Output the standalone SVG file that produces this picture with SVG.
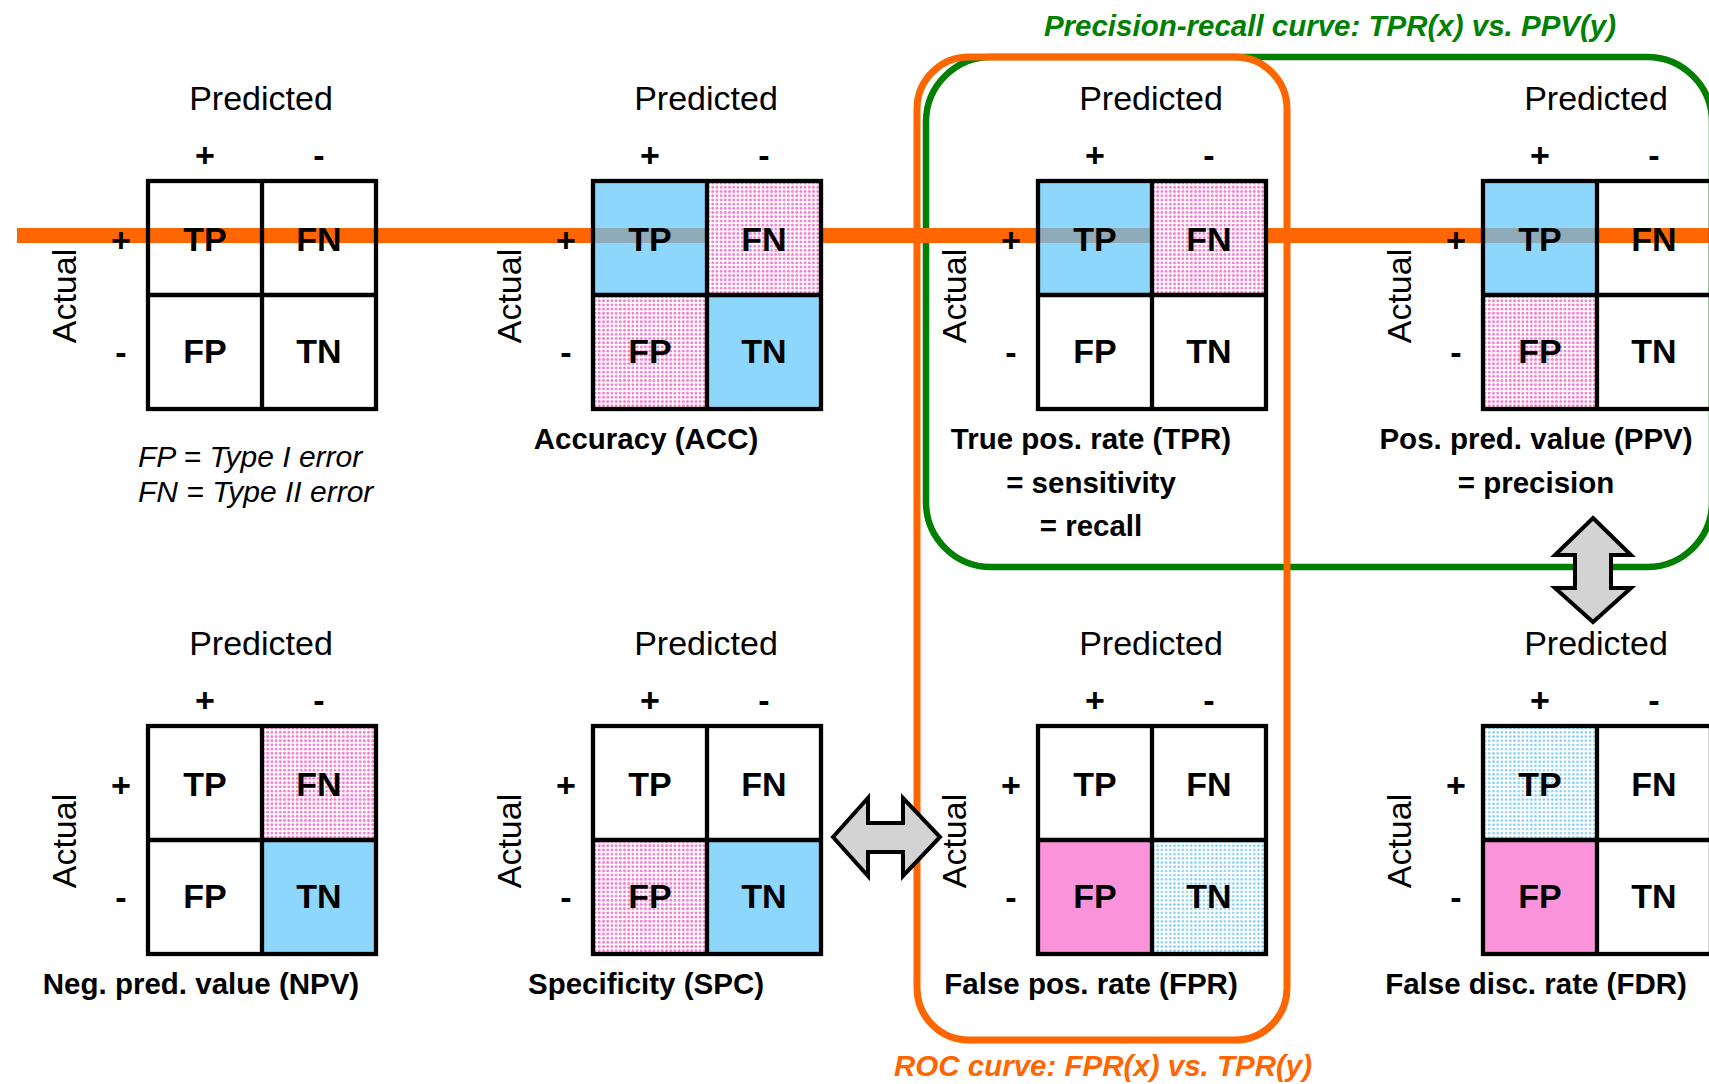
<svg xmlns="http://www.w3.org/2000/svg" width="1709" height="1084" viewBox="0 0 1709 1084">
<defs>
<pattern id="pinkdots" patternUnits="userSpaceOnUse" width="4.2" height="4.2">
<rect width="4.2" height="4.2" fill="#ffffff"/>
<circle cx="2.1" cy="2.1" r="1.45" fill="#f77ccd"/>
</pattern>
<pattern id="bluedots" patternUnits="userSpaceOnUse" width="4.2" height="4.2">
<rect width="4.2" height="4.2" fill="#ffffff"/>
<circle cx="2.1" cy="2.1" r="1.35" fill="#86cff5"/>
</pattern>
<style>
text { font-family: "Liberation Sans", Arial, sans-serif; fill: #000; }
.pred { font-size: 34px; text-anchor: middle; }
.sign { font-size: 34px; font-weight: bold; text-anchor: middle; }
.cell { font-size: 34px; font-weight: bold; text-anchor: middle; }
.act { font-size: 34px; text-anchor: middle; }
.lbl { font-size: 29.5px; font-weight: bold; text-anchor: middle; }
.note { font-size: 30px; font-style: italic; }
.title { font-size: 29.5px; font-weight: bold; font-style: italic; text-anchor: middle; }
.grid { fill: none; stroke: #000; stroke-width: 4.3; }
.blue { fill: #8dd7fc; }
.pink { fill: #fa93da; }
.pdot { fill: url(#pinkdots); }
.bdot { fill: url(#bluedots); }
.band { fill: #8faab8; }
.arrow { fill: #d3d3d3; stroke: #000; stroke-width: 4; stroke-linejoin: miter; }
</style>
</defs>
<rect width="1709" height="1084" fill="#ffffff"/>

<g id="curve-boxes">
<rect id="pr-box" x="926" y="57" width="786" height="510" rx="65" fill="none" stroke="#008000" stroke-width="6.5"/>
<rect id="roc-box" x="917" y="57" width="370" height="983" rx="52" fill="none" stroke="#ff6600" stroke-width="7"/>
</g>

<g id="connectors">
<rect x="17" y="228" width="1692" height="15" fill="#ff6600"/>
</g>

<!-- Matrix 1 -->
<g id="m1" transform="translate(148,181)">
<text class="pred" x="113" y="-71">Predicted</text>
<text class="sign" x="57" y="-14">+</text>
<text class="sign" x="171" y="-14">-</text>
<text class="sign" x="-27" y="71">+</text>
<text class="sign" x="-27" y="183">-</text>
<text class="act" transform="translate(-72,115) rotate(-90)">Actual</text>
<rect class="grid" x="0" y="0" width="228" height="228"/>
<path class="grid" d="M114,0V228M0,114H228"/>
<text class="cell" x="57" y="70">TP</text>
<text class="cell" x="171" y="70">FN</text>
<text class="cell" x="57" y="182">FP</text>
<text class="cell" x="171" y="182">TN</text>
</g>
<g id="m1-note">
<text class="note" x="138" y="467">FP = Type I error</text>
<text class="note" x="138" y="502">FN = Type II error</text>
</g>

<!-- Matrix 2: ACC -->
<g id="m2" transform="translate(593,181)">
<text class="pred" x="113" y="-71">Predicted</text>
<text class="sign" x="57" y="-14">+</text>
<text class="sign" x="171" y="-14">-</text>
<text class="sign" x="-27" y="71">+</text>
<text class="sign" x="-27" y="183">-</text>
<text class="act" transform="translate(-72,115) rotate(-90)">Actual</text>
<rect class="blue" x="0" y="0" width="114" height="114"/>
<rect class="band" x="0" y="47" width="114" height="15"/>
<rect class="pdot" x="114" y="0" width="114" height="114"/>
<rect class="pdot" x="0" y="114" width="114" height="114"/>
<rect class="blue" x="114" y="114" width="114" height="114"/>
<rect class="grid" x="0" y="0" width="228" height="228"/>
<path class="grid" d="M114,0V228M0,114H228"/>
<text class="cell" x="57" y="70">TP</text>
<text class="cell" x="171" y="70">FN</text>
<text class="cell" x="57" y="182">FP</text>
<text class="cell" x="171" y="182">TN</text>
<text class="lbl" x="53" y="268">Accuracy (ACC)</text>
</g>

<!-- Matrix 3: TPR -->
<g id="m3" transform="translate(1038,181)">
<text class="pred" x="113" y="-71">Predicted</text>
<text class="sign" x="57" y="-14">+</text>
<text class="sign" x="171" y="-14">-</text>
<text class="sign" x="-27" y="71">+</text>
<text class="sign" x="-27" y="183">-</text>
<text class="act" transform="translate(-72,115) rotate(-90)">Actual</text>
<rect class="blue" x="0" y="0" width="114" height="114"/>
<rect class="band" x="0" y="47" width="114" height="15"/>
<rect class="pdot" x="114" y="0" width="114" height="114"/>
<rect x="0" y="114" width="228" height="114" fill="#ffffff"/>
<rect class="grid" x="0" y="0" width="228" height="228"/>
<path class="grid" d="M114,0V228M0,114H228"/>
<text class="cell" x="57" y="70">TP</text>
<text class="cell" x="171" y="70">FN</text>
<text class="cell" x="57" y="182">FP</text>
<text class="cell" x="171" y="182">TN</text>
<text class="lbl" x="53" y="268">True pos. rate (TPR)</text>
<text class="lbl" x="53" y="312">= sensitivity</text>
<text class="lbl" x="53" y="355">= recall</text>
</g>

<!-- Matrix 4: PPV -->
<g id="m4" transform="translate(1483,181)">
<text class="pred" x="113" y="-71">Predicted</text>
<text class="sign" x="57" y="-14">+</text>
<text class="sign" x="171" y="-14">-</text>
<text class="sign" x="-27" y="71">+</text>
<text class="sign" x="-27" y="183">-</text>
<text class="act" transform="translate(-72,115) rotate(-90)">Actual</text>
<rect class="blue" x="0" y="0" width="114" height="114"/>
<rect class="band" x="0" y="47" width="114" height="15"/>
<rect class="pdot" x="0" y="114" width="114" height="114"/>
<rect class="grid" x="0" y="0" width="228" height="228"/>
<path class="grid" d="M114,0V228M0,114H228"/>
<text class="cell" x="57" y="70">TP</text>
<text class="cell" x="171" y="70">FN</text>
<text class="cell" x="57" y="182">FP</text>
<text class="cell" x="171" y="182">TN</text>
<text class="lbl" x="53" y="268">Pos. pred. value (PPV)</text>
<text class="lbl" x="53" y="312">= precision</text>
</g>

<!-- Matrix 5: NPV -->
<g id="m5" transform="translate(148,726)">
<text class="pred" x="113" y="-71">Predicted</text>
<text class="sign" x="57" y="-14">+</text>
<text class="sign" x="171" y="-14">-</text>
<text class="sign" x="-27" y="71">+</text>
<text class="sign" x="-27" y="183">-</text>
<text class="act" transform="translate(-72,115) rotate(-90)">Actual</text>
<rect class="pdot" x="114" y="0" width="114" height="114"/>
<rect class="blue" x="114" y="114" width="114" height="114"/>
<rect class="grid" x="0" y="0" width="228" height="228"/>
<path class="grid" d="M114,0V228M0,114H228"/>
<text class="cell" x="57" y="70">TP</text>
<text class="cell" x="171" y="70">FN</text>
<text class="cell" x="57" y="182">FP</text>
<text class="cell" x="171" y="182">TN</text>
<text class="lbl" x="53" y="268">Neg. pred. value (NPV)</text>
</g>

<!-- Matrix 6: SPC -->
<g id="m6" transform="translate(593,726)">
<text class="pred" x="113" y="-71">Predicted</text>
<text class="sign" x="57" y="-14">+</text>
<text class="sign" x="171" y="-14">-</text>
<text class="sign" x="-27" y="71">+</text>
<text class="sign" x="-27" y="183">-</text>
<text class="act" transform="translate(-72,115) rotate(-90)">Actual</text>
<rect class="pdot" x="0" y="114" width="114" height="114"/>
<rect class="blue" x="114" y="114" width="114" height="114"/>
<rect class="grid" x="0" y="0" width="228" height="228"/>
<path class="grid" d="M114,0V228M0,114H228"/>
<text class="cell" x="57" y="70">TP</text>
<text class="cell" x="171" y="70">FN</text>
<text class="cell" x="57" y="182">FP</text>
<text class="cell" x="171" y="182">TN</text>
<text class="lbl" x="53" y="268">Specificity (SPC)</text>
</g>

<!-- Matrix 7: FPR -->
<g id="m7" transform="translate(1038,726)">
<text class="pred" x="113" y="-71">Predicted</text>
<text class="sign" x="57" y="-14">+</text>
<text class="sign" x="171" y="-14">-</text>
<text class="sign" x="-27" y="71">+</text>
<text class="sign" x="-27" y="183">-</text>
<text class="act" transform="translate(-72,115) rotate(-90)">Actual</text>
<rect class="pink" x="0" y="114" width="114" height="114"/>
<rect class="bdot" x="114" y="114" width="114" height="114"/>
<rect class="grid" x="0" y="0" width="228" height="228"/>
<path class="grid" d="M114,0V228M0,114H228"/>
<text class="cell" x="57" y="70">TP</text>
<text class="cell" x="171" y="70">FN</text>
<text class="cell" x="57" y="182">FP</text>
<text class="cell" x="171" y="182">TN</text>
<text class="lbl" x="53" y="268">False pos. rate (FPR)</text>
</g>

<!-- Matrix 8: FDR -->
<g id="m8" transform="translate(1483,726)">
<text class="pred" x="113" y="-71">Predicted</text>
<text class="sign" x="57" y="-14">+</text>
<text class="sign" x="171" y="-14">-</text>
<text class="sign" x="-27" y="71">+</text>
<text class="sign" x="-27" y="183">-</text>
<text class="act" transform="translate(-72,115) rotate(-90)">Actual</text>
<rect class="bdot" x="0" y="0" width="114" height="114"/>
<rect class="pink" x="0" y="114" width="114" height="114"/>
<rect class="grid" x="0" y="0" width="228" height="228"/>
<path class="grid" d="M114,0V228M0,114H228"/>
<text class="cell" x="57" y="70">TP</text>
<text class="cell" x="171" y="70">FN</text>
<text class="cell" x="57" y="182">FP</text>
<text class="cell" x="171" y="182">TN</text>
<text class="lbl" x="53" y="268">False disc. rate (FDR)</text>
</g>

<g id="arrows">
<path class="arrow" d="M1593,518 L1631,555 L1611,555 L1611,588 L1631,588 L1593,622 L1555,588 L1575,588 L1575,555 L1555,555 Z"/>
<path class="arrow" d="M833,837 L868,798 L868,823 L903,823 L903,798 L940,837 L903,876 L903,852 L868,852 L868,876 Z"/>
</g>

<g id="titles">
<text class="title" x="1330" y="36" style="fill:#008000">Precision-recall curve: TPR(x) vs. PPV(y)</text>
<text class="title" x="1103" y="1076" style="fill:#ff6600">ROC curve: FPR(x) vs. TPR(y)</text>
</g>
</svg>
